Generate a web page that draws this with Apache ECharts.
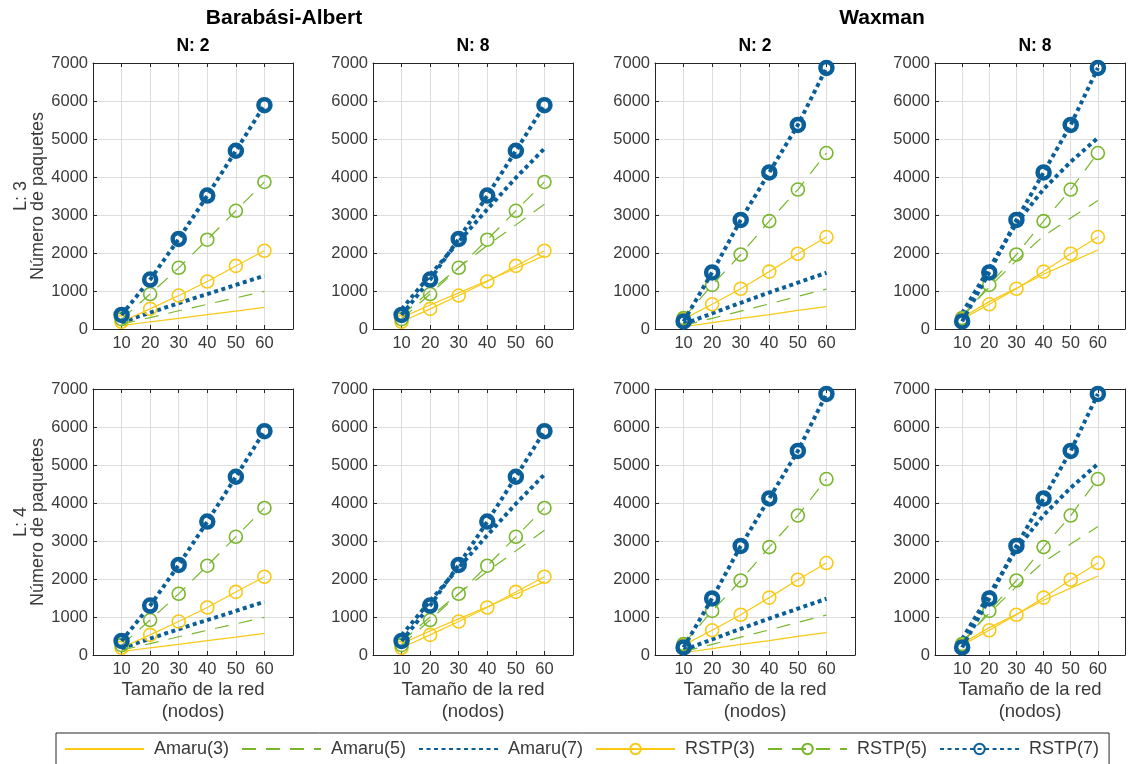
<!DOCTYPE html>
<html><head><meta charset="utf-8">
<script src="https://cdn.jsdelivr.net/npm/echarts@6/dist/echarts.min.js"></script>
<style>html,body{margin:0;padding:0;background:#fff}#c{width:1128px;height:764px}</style>
</head><body><div id="c"></div><script>
// ---------- data ----------
const xValues = [10, 20, 30, 40, 50, 60];
const seriesNames = ['Amaru(3)', 'Amaru(5)', 'Amaru(7)', 'RSTP(3)', 'RSTP(5)', 'RSTP(7)'];
const groupTitles = ['Barabási-Albert', 'Waxman'];
const colTitles = ['N: 2', 'N: 8', 'N: 2', 'N: 8'];
const rowLabels = ['L: 3', 'L: 4'];

// Barabási-Albert, N: 2
const ba_n2_amaru3 = [90, 190, 280, 380, 470, 570];
const ba_n2_amaru5 = [130, 300, 480, 650, 820, 990];
const ba_n2_amaru7 = [180, 430, 680, 920, 1160, 1400];
const ba_n2_rstp3  = [190, 530, 880, 1250, 1660, 2060];
const ba_n2_rstp5  = [260, 920, 1610, 2350, 3110, 3870];
const ba_n2_rstp7  = [370, 1300, 2370, 3510, 4690, 5890];
// Barabási-Albert, N: 8
const ba_n8_amaru3 = [300, 630, 950, 1270, 1600, 1930];
const ba_n8_amaru5 = [350, 1000, 1620, 2200, 2740, 3280];
const ba_n8_amaru7 = [520, 1420, 2300, 3150, 3980, 4750];
const ba_n8_rstp3  = [190, 530, 880, 1250, 1660, 2060];
const ba_n8_rstp5  = [260, 920, 1610, 2350, 3110, 3870];
const ba_n8_rstp7  = [370, 1300, 2370, 3510, 4690, 5890];
// Waxman, N: 2
const wx_n2_amaru3 = [60, 170, 280, 380, 490, 590];
const wx_n2_amaru5 = [90, 280, 470, 660, 860, 1050];
const wx_n2_amaru7 = [130, 410, 690, 960, 1220, 1480];
const wx_n2_rstp3  = [260, 650, 1060, 1510, 1980, 2420];
const wx_n2_rstp5  = [290, 1160, 1960, 2840, 3670, 4630];
const wx_n2_rstp7  = [200, 1490, 2870, 4120, 5370, 6870];
// Waxman, N: 8
const wx_n8_amaru3 = [300, 720, 1070, 1440, 1760, 2080];
const wx_n8_amaru5 = [350, 1100, 1800, 2450, 2920, 3380];
const wx_n8_amaru7 = [420, 1600, 2780, 3680, 4400, 5030];
const wx_n8_rstp3  = [260, 650, 1060, 1510, 1980, 2420];
const wx_n8_rstp5  = [290, 1160, 1960, 2840, 3670, 4630];
const wx_n8_rstp7  = [200, 1490, 2870, 4120, 5370, 6870];
// (rows L: 3 and L: 4 show the same values in the reference)

const panelData = [
  [ba_n2_amaru3, ba_n2_amaru5, ba_n2_amaru7, ba_n2_rstp3, ba_n2_rstp5, ba_n2_rstp7],
  [ba_n8_amaru3, ba_n8_amaru5, ba_n8_amaru7, ba_n8_rstp3, ba_n8_rstp5, ba_n8_rstp7],
  [wx_n2_amaru3, wx_n2_amaru5, wx_n2_amaru7, wx_n2_rstp3, wx_n2_rstp5, wx_n2_rstp7],
  [wx_n8_amaru3, wx_n8_amaru5, wx_n8_amaru7, wx_n8_rstp3, wx_n8_rstp5, wx_n8_rstp7]
];

// ---------- styling ----------
const FONT = '"Liberation Sans", Arial, Helvetica, sans-serif';
const TXT = '#3a3a3a';
const AX = '#262626';
const YEL = '#F9C914', GRN = '#78B72B', BLU = '#0B5F99';
const colLeft = [93, 373, 655, 935];
const rowTop = [63, 389];
const GW = 200, GH = 266;

const styles = [
  {color: YEL, width: 1.2, type: 'solid', marker: null},
  {color: GRN, width: 1.2, type: [14, 10], marker: null},
  {color: BLU, width: 4, type: [4, 3.5], marker: null},
  {color: YEL, width: 1.2, type: 'solid', marker: {size: 13, bw: 1.6}},
  {color: GRN, width: 1.2, type: [14, 10], marker: {size: 13, bw: 1.6}},
  {color: BLU, width: 4, type: [4, 3.5], marker: {size: 12, bw: 4.5}}
];

const grid = [], xAxis = [], yAxis = [], series = [], graphic = [];
let gi = 0;
for (let r = 0; r < 2; r++) {
  for (let c = 0; c < 4; c++) {
    grid.push({left: colLeft[c], top: rowTop[r], width: GW, height: GH, containLabel: false});
    const bottomRow = r === 1;
    xAxis.push({
      type: 'value', gridIndex: gi, min: 0, max: 70, interval: 10, position: 'bottom',
      axisLine: {show: true, onZero: false, lineStyle: {color: AX, width: 1}},
      axisTick: {show: true, inside: true, length: 4, lineStyle: {color: AX}},
      axisLabel: {show: true, margin: 6, color: TXT, fontSize: 16.5, fontFamily: FONT,
        formatter: v => (v === 0 || v === 70) ? '' : String(v)},
      splitLine: {show: true, lineStyle: {color: '#dedede', width: 1}},
      name: bottomRow ? 'Tamaño de la red\n(nodos)' : '',
      nameLocation: 'middle', nameGap: 21,
      nameTextStyle: {color: TXT, fontSize: 18.5, fontFamily: FONT, lineHeight: 22}
    });
    xAxis.push({
      type: 'value', gridIndex: gi, min: 0, max: 70, interval: 10, position: 'top',
      axisLine: {show: true, onZero: false, lineStyle: {color: AX, width: 1}},
      axisTick: {show: true, inside: true, length: 4, lineStyle: {color: AX}},
      axisLabel: {show: false}, splitLine: {show: false}
    });
    yAxis.push({
      type: 'value', gridIndex: gi, min: 0, max: 7000, interval: 1000, position: 'left',
      axisLine: {show: true, onZero: false, lineStyle: {color: AX, width: 1}},
      axisTick: {show: true, inside: true, length: 4, lineStyle: {color: AX}},
      axisLabel: {show: true, margin: 5, color: TXT, fontSize: 16.5, fontFamily: FONT,
        formatter: v => String(v)},
      splitLine: {show: true, lineStyle: {color: '#dedede', width: 1}},
      name: c === 0 ? rowLabels[r] + '\nNúmero de paquetes' : '',
      nameLocation: 'middle', nameGap: 45, nameRotate: 90,
      nameTextStyle: {color: TXT, fontSize: 18, fontFamily: FONT, lineHeight: 17}
    });
    yAxis.push({
      type: 'value', gridIndex: gi, min: 0, max: 7000, interval: 1000, position: 'right',
      axisLine: {show: true, onZero: false, lineStyle: {color: AX, width: 1}},
      axisTick: {show: true, inside: true, length: 4, lineStyle: {color: AX}},
      axisLabel: {show: false}, splitLine: {show: false}
    });
    const d = panelData[c];
    for (let s = 0; s < 6; s++) {
      const st = styles[s];
      const ser = {
        type: 'line', name: seriesNames[s], xAxisIndex: gi * 2, yAxisIndex: gi * 2,
        data: xValues.map((x, k) => [x, d[s][k]]),
        lineStyle: {color: st.color, width: st.width, type: st.type, cap: 'butt'},
        silent: true, z: 2 + s
      };
      if (st.marker) {
        ser.symbol = 'circle';
        ser.symbolSize = st.marker.size;
        ser.showSymbol = true;
        ser.itemStyle = {color: 'rgba(255,255,255,0)', borderColor: st.color, borderWidth: st.marker.bw};
      } else {
        ser.symbol = 'none';
        ser.itemStyle = {color: st.color};
      }
      series.push(ser);
    }
    gi++;
  }
}

// column titles
for (let c = 0; c < 4; c++) {
  graphic.push({type: 'text', x: colLeft[c] + GW / 2, y: 46,
    style: {text: colTitles[c], font: 'bold 17.5px ' + FONT, fill: '#000', textAlign: 'center', textVerticalAlign: 'middle'}});
}
graphic.push({type: 'text', x: 284, y: 18,
  style: {text: groupTitles[0], font: 'bold 21px ' + FONT, fill: '#000', textAlign: 'center', textVerticalAlign: 'middle'}});
graphic.push({type: 'text', x: 882, y: 18,
  style: {text: groupTitles[1], font: 'bold 21px ' + FONT, fill: '#000', textAlign: 'center', textVerticalAlign: 'middle'}});

const legendData = seriesNames.map((n, i) => styles[i].marker
  ? {name: n}
  : {name: n, itemStyle: {opacity: 0}});

const chart = echarts.init(document.getElementById('c'), null, {renderer: 'canvas'});
chart.setOption({
  animation: false,
  backgroundColor: '#fff',
  grid, xAxis, yAxis, series, graphic,
  legend: {
    data: legendData, left: 56, top: 733, orient: 'horizontal',
    itemWidth: 79, itemHeight: 13, itemGap: 12,
    padding: [7, 10, 8, 8],
    borderColor: AX, borderWidth: 1, backgroundColor: '#fff',
    formatter: n => ' ' + n,
    textStyle: {color: TXT, fontSize: 18, fontFamily: FONT},
    selectedMode: false
  }
});
</script></body></html>
